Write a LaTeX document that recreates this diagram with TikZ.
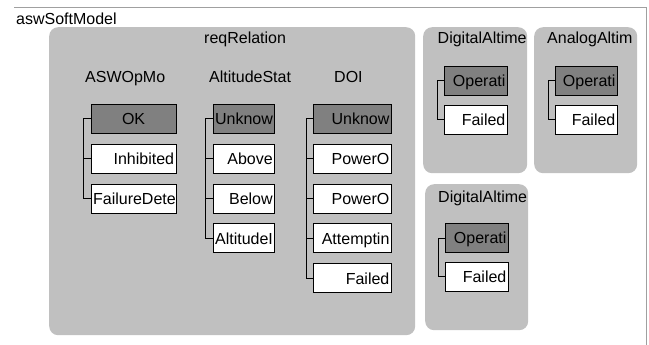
\documentclass[tikz,border=0pt]{standalone}
\usepackage{fontspec}
\setmainfont{Liberation Sans}
\usetikzlibrary{positioning}

\definecolor{grpgray}{HTML}{C0C0C0}
\definecolor{initgray}{HTML}{808080}
\definecolor{framegray}{HTML}{A0A0A0}

\tikzset{
    region/.style={fill=grpgray, rounded corners=9pt, inner sep=0pt, anchor=north west},
    title/.style={anchor=base west, inner sep=0pt},
    stbox/.style={draw, fill=white, rectangle, line width=0.8pt,
        minimum height=29pt, inner xsep=2pt, inner ysep=0pt,
        text width=#1, align=right, text height=12pt, text depth=0pt},
    initbox/.style={stbox=#1, fill=initgray},
    tree/.style={line width=0.8pt},
}

\begin{document}
\begin{tikzpicture}[x=1pt, y=-1pt, font=\fontsize{16pt}{19pt}\selectfont]
    \useasboundingbox (0,0) rectangle (649,345);

    % outer model frame
    \coordinate (fl) at (14,8);
    \coordinate (fr) at (646,8);
    \coordinate (fb) at (646,345);
    \draw[framegray, line width=1pt] (fl) -- (fr) -- (fb);
    \node[title] (model) at (16,25) {aswSoftModel};

    % regions
    \node[region, minimum width=366pt, minimum height=308pt] (req) at (49,27) {};
    \node[region, minimum width=104pt, minimum height=146pt] (dig1) at (423,27) {};
    \node[region, minimum width=103pt, minimum height=146pt] (ana) at (534,27) {};
    \node[region, minimum width=103pt, minimum height=146pt] (dig2) at (425,184) {};

    \node[title] (reqlbl) at (204,44) {reqRelation};
    \node[title] (asw) at (85,83) {ASWOpMo};
    \node[title] (alt) at (209,83) {AltitudeStat};
    \node[title] (doi) at (334,83) {DOI};
    \node[title] (dig1lbl) at (437.5,44) {DigitalAltime};
    \node[title] (analbl) at (547,44) {AnalogAltim};
    \node[title] (dig2lbl) at (438,202) {DigitalAltime};

    % ASWOpMode
    \node[initbox=81pt, align=center, anchor=north west] (ok) at (90.7,104) {OK};
    \node[stbox=81pt, below=10pt of ok] (inh) {Inhibited};
    \node[stbox=81pt, below=10pt of inh] (fdet) {FailureDete};

    % AltitudeStatus
    \node[initbox=57.6pt, anchor=north west] (unk1) at (212.7,104) {Unknow};
    \node[stbox=57.6pt, below=10pt of unk1] (abv) {Above};
    \node[stbox=57.6pt, below=10pt of abv] (blw) {Below};
    \node[stbox=57.6pt, below=10pt of blw] (altinv) {AltitudeI};

    % DOI
    \node[initbox=74pt, anchor=north west] (unk2) at (313,104) {Unknow};
    \node[stbox=74pt, below=10pt of unk2] (pon1) {PowerO};
    \node[stbox=74pt, below=10pt of pon1] (pon2) {PowerO};
    \node[stbox=74pt, below=10pt of pon2] (att) {Attemptin};
    \node[stbox=74pt, below=10pt of att] (dfail) {Failed};

    % altimeters
    \node[initbox=59pt, anchor=north west] (op1) at (444,66) {Operati};
    \node[stbox=59pt, below=9pt of op1] (fail1) {Failed};
    \node[initbox=58pt, anchor=north west] (op2) at (555,66) {Operati};
    \node[stbox=58pt, below=9pt of op2] (fail2) {Failed};
    \node[initbox=59pt, anchor=north west] (op3) at (445,223) {Operati};
    \node[stbox=59pt, below=9pt of op3] (fail3) {Failed};

    % trees
    \draw[tree] (ok.west) -- ++(-7,0) |- (fdet.west);
    \draw[tree] (inh.west) -- ++(-7,0);
    \draw[tree] (unk1.west) -- ++(-7,0) |- (altinv.west);
    \draw[tree] (abv.west) -- ++(-7,0);
    \draw[tree] (blw.west) -- ++(-7,0);
    \draw[tree] (unk2.west) -- ++(-7,0) |- (dfail.west);
    \draw[tree] (pon1.west) -- ++(-7,0);
    \draw[tree] (pon2.west) -- ++(-7,0);
    \draw[tree] (att.west) -- ++(-7,0);
    \draw[tree] (op1.west) -- ++(-7,0) |- (fail1.west);
    \draw[tree] (op2.west) -- ++(-7,0) |- (fail2.west);
    \draw[tree] (op3.west) -- ++(-7,0) |- (fail3.west);
\end{tikzpicture}
\end{document}
